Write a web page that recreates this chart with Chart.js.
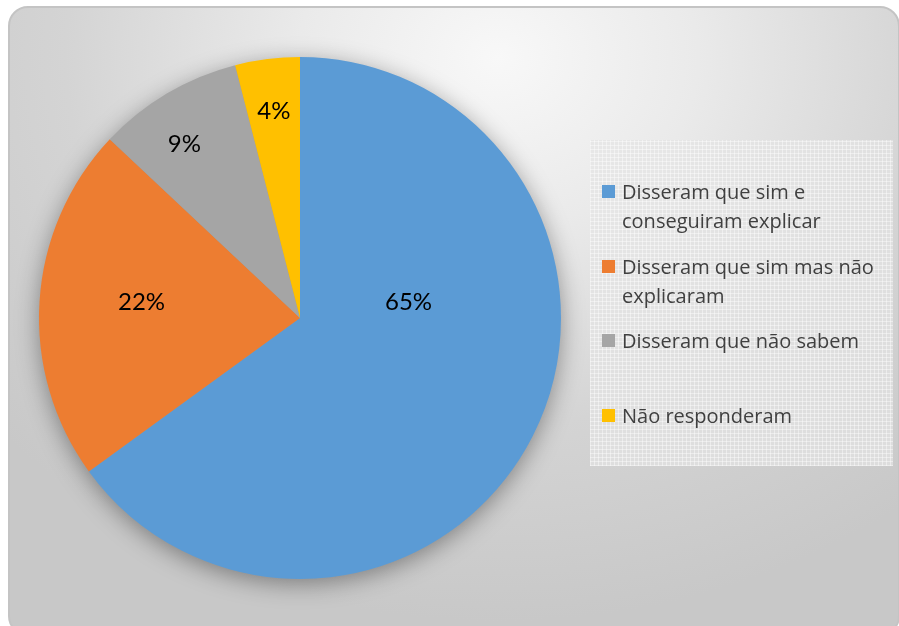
<!DOCTYPE html>
<html lang="pt">
<head>
    <meta charset="UTF-8">
    <title>Respostas</title>
    <script src="https://cdn.jsdelivr.net/npm/chart.js"></script>
    <style>
        html, body {
            margin: 0;
            padding: 0;
            background: #ffffff;
            width: 899px;
            height: 626px;
            overflow: hidden;
        }
        .frame {
            position: absolute;
            left: 8px;
            top: 6px;
            width: 888px;
            height: 626px;
            border: 2px solid #c4c4c4;
            border-radius: 20px;
            background: radial-gradient(ellipse 75% 90% at 55% 8%, #f8f8f8 0%, #eaeaea 30%, #d4d4d4 65%, #c8c8c8 100%);
        }
        #pieChart {
            position: absolute;
            left: 0;
            top: 0;
        }
        .legend {
            position: absolute;
            left: 590px;
            top: 140px;
            width: 303px;
            height: 326px;
            background-color: rgba(228, 228, 228, 0.7);
            background-image:
                repeating-linear-gradient(0deg, rgba(255,255,255,0.4) 0 1px, transparent 1px 4px),
                repeating-linear-gradient(90deg, rgba(255,255,255,0.4) 0 1px, transparent 1px 4px);
            font-family: "Open Sans", sans-serif;
            font-size: 20px;
            color: #404040;
        }
        .legend .item {
            position: absolute;
            left: 12px;
            width: 290px;
            line-height: 29px;
        }
        .legend .box {
            position: absolute;
            left: 0;
            top: 8px;
            width: 13px;
            height: 13px;
        }
        .legend .text {
            margin-left: 20px;
        }
    </style>
</head>
<body>
    <div class="frame"></div>
    <canvas id="pieChart" width="899" height="626"></canvas>
    <div id="legend" class="legend"></div>
    <script>
        const categories = [
            'Disseram que sim e conseguiram explicar',
            'Disseram que sim mas não explicaram',
            'Disseram que não sabem',
            'Não responderam'
        ];
        const percentages = [65, 22, 9, 4];
        const colors = ['#5B9BD5', '#ED7D31', '#A5A5A5', '#FFC000'];

        // where each percentage sits inside its slice: [radius fraction, angle shift in degrees]
        const labelPlacement = [[0.42, -35], [0.61, 2], [0.80, -3], [0.80, 0]];

        // soft halo behind the pie
        const pieShadow = {
            id: 'pieShadow',
            beforeDatasetsDraw(chart) {
                const arc = chart.getDatasetMeta(0).data[0];
                if (!arc) return;
                const ctx = chart.ctx;
                ctx.save();
                ctx.shadowColor = 'rgba(0, 0, 0, 0.4)';
                ctx.shadowBlur = 24;
                ctx.shadowOffsetY = 5;
                ctx.fillStyle = '#999';
                ctx.beginPath();
                ctx.arc(arc.x, arc.y, arc.outerRadius - 1, 0, Math.PI * 2);
                ctx.fill();
                ctx.restore();
            }
        };

        // percentage text on each slice
        const sliceLabels = {
            id: 'sliceLabels',
            afterDatasetsDraw(chart) {
                const ctx = chart.ctx;
                const meta = chart.getDatasetMeta(0);
                ctx.save();
                ctx.font = '24px Lato, sans-serif';
                ctx.fillStyle = '#000000';
                ctx.textAlign = 'center';
                ctx.textBaseline = 'middle';
                meta.data.forEach((arc, i) => {
                    const [frac, shift] = labelPlacement[i];
                    const mid = (arc.startAngle + arc.endAngle) / 2 + shift * Math.PI / 180;
                    const r = arc.outerRadius * frac;
                    ctx.fillText(percentages[i] + '%', arc.x + Math.cos(mid) * r, arc.y + Math.sin(mid) * r);
                });
                ctx.restore();
            }
        };

        new Chart(document.getElementById('pieChart'), {
            type: 'pie',
            data: {
                labels: categories,
                datasets: [{
                    data: percentages,
                    backgroundColor: colors,
                    borderWidth: 0
                }]
            },
            options: {
                responsive: false,
                animation: false,
                layout: {
                    padding: { left: 39, right: 338, top: 57, bottom: 47 }
                },
                plugins: {
                    legend: { display: false },
                    tooltip: { enabled: false }
                }
            },
            plugins: [pieShadow, sliceLabels]
        });

        // legend slots, evenly spaced
        const legendEl = document.getElementById('legend');
        const slotTops = [37, 112, 186, 261];
        categories.forEach((name, i) => {
            const item = document.createElement('div');
            item.className = 'item';
            item.style.top = slotTops[i] + 'px';
            item.innerHTML = `<span class="box" style="background:${colors[i]}"></span><div class="text">${name}</div>`;
            legendEl.appendChild(item);
        });
    </script>
</body>
</html>
